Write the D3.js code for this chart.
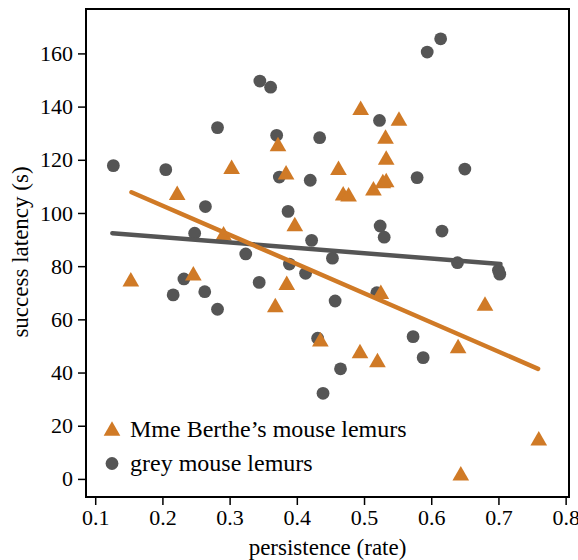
<!DOCTYPE html>
<html>
  <head>
    <meta charset="UTF-8" />
    <title>Persistence vs success latency</title>
    <script src="https://cdnjs.cloudflare.com/ajax/libs/d3/7.8.5/d3.min.js"></script>
    <style>
      body {
        margin: 0;
        padding: 0;
        background: #fff;
      }
    </style>
  </head>

  <body>
    <svg id="chart" width="578" height="560"></svg>

    <script>
      // Mme Berthe's mouse lemurs (triangles)
      const berthePersistence = [0.153, 0.222, 0.246, 0.291, 0.303, 0.368, 0.372, 0.384, 0.385, 0.397,
                                 0.435, 0.462, 0.469, 0.477, 0.494, 0.495, 0.514, 0.520, 0.525, 0.528,
                                 0.533, 0.532, 0.533, 0.552, 0.640, 0.644, 0.680, 0.760];
      const bertheLatency = [75.1, 107.6, 77.3, 92.4, 117.4, 65.4, 125.9, 115.3, 73.8, 95.9,
                             52.5, 117.0, 107.4, 107.0, 48.1, 139.6, 109.3, 44.7, 70.4, 112.0,
                             112.4, 128.8, 120.9, 135.5, 50.0, 2.1, 66.0, 15.3];

      // grey mouse lemurs (circles)
      const greyPersistence = [0.127, 0.205, 0.216, 0.232, 0.248, 0.263, 0.264, 0.282, 0.282, 0.324,
                               0.344, 0.345, 0.361, 0.370, 0.374, 0.387, 0.389, 0.413, 0.420, 0.422,
                               0.431, 0.434, 0.439, 0.453, 0.457, 0.465, 0.519, 0.523, 0.524, 0.530,
                               0.573, 0.579, 0.588, 0.594, 0.614, 0.616, 0.639, 0.650, 0.700, 0.702];
      const greyLatency = [117.8, 116.3, 69.2, 75.2, 92.4, 70.4, 102.4, 63.8, 132.1, 84.6,
                           73.9, 149.6, 147.3, 129.2, 113.5, 100.6, 80.8, 77.3, 112.3, 89.7,
                           52.9, 128.3, 32.2, 83.0, 66.9, 41.4, 70.0, 134.8, 95.1, 90.9,
                           53.5, 113.3, 45.6, 160.5, 165.5, 93.2, 81.3, 116.5, 78.5, 77.0];

      // fitted lines, end points
      const bertheFitX = [0.154, 0.759];
      const bertheFitY = [107.8, 41.4];
      const greyFitX = [0.1255, 0.703];
      const greyFitY = [92.4, 80.8];

      const xTicks = [0.1, 0.2, 0.3, 0.4, 0.5, 0.6, 0.7, 0.8];
      const yTicks = [0, 20, 40, 60, 80, 100, 120, 140, 160];
      const legendLabels = ["Mme Berthe\u2019s mouse lemurs", "grey mouse lemurs"];

      const orange = "#d07a26";
      const grey = "#555555";
      const serif = "'Liberation Serif', 'Times New Roman', Times, serif";

      const svg = d3.select("#chart");
      const plotLeft = 86, plotRight = 569, plotTop = 9, plotBottom = 497;

      const x = d3.scaleLinear().domain([0.0863, 0.805]).range([plotLeft, plotRight]);
      const y = d3.scaleLinear().domain([-6.8, 176.7]).range([plotBottom, plotTop]);

      // axes
      const xAxis = svg.append("g")
        .attr("transform", `translate(0,${plotBottom})`)
        .call(d3.axisBottom(x).tickValues(xTicks).tickFormat(d3.format(".1f"))
          .tickSize(8).tickPadding(4).tickSizeOuter(0));
      const yAxis = svg.append("g")
        .attr("transform", `translate(${plotLeft},0)`)
        .call(d3.axisLeft(y).tickValues(yTicks).tickFormat(d3.format("d"))
          .tickSize(8).tickPadding(5).tickSizeOuter(0));
      [xAxis, yAxis].forEach(g => {
        g.select(".domain").remove();
        g.selectAll(".tick line").attr("stroke", "#000").attr("stroke-width", 1.5);
        g.selectAll(".tick text")
          .style("font-family", serif)
          .style("font-size", "22px")
          .attr("fill", "#000");
      });

      // frame
      svg.append("rect")
        .attr("x", plotLeft).attr("y", plotTop)
        .attr("width", plotRight - plotLeft).attr("height", plotBottom - plotTop)
        .attr("fill", "none").attr("stroke", "#000").attr("stroke-width", 2);

      // axis titles
      svg.append("text")
        .attr("x", (plotLeft + plotRight) / 2)
        .attr("y", 555)
        .attr("text-anchor", "middle")
        .style("font-family", serif)
        .style("font-size", "23px")
        .text("persistence (rate)");
      svg.append("text")
        .attr("transform", "translate(28,252) rotate(-90)")
        .attr("text-anchor", "middle")
        .style("font-family", serif)
        .style("font-size", "23px")
        .text("success latency (s)");

      // triangle centred on its bounding box, like matplotlib's "^"
      function triangle(h) {
        const w = h * 1.15;
        return `M0,${-h / 2}L${w / 2},${h / 2}L${-w / 2},${h / 2}Z`;
      }

      const greyPts = greyPersistence.map((p, i) => ({ p, l: greyLatency[i] }));
      const berthePts = berthePersistence.map((p, i) => ({ p, l: bertheLatency[i] }));

      svg.append("g").selectAll("circle")
        .data(greyPts)
        .join("circle")
        .attr("cx", d => x(d.p))
        .attr("cy", d => y(d.l))
        .attr("r", 6.4)
        .attr("fill", grey);

      svg.append("g").selectAll("path")
        .data(berthePts)
        .join("path")
        .attr("d", triangle(14.5))
        .attr("transform", d => `translate(${x(d.p)},${y(d.l)})`)
        .attr("fill", orange);

      // fit lines
      const line = d3.line().x(d => x(d[0])).y(d => y(d[1]));
      svg.append("path")
        .datum(greyFitX.map((v, i) => [v, greyFitY[i]]))
        .attr("d", line)
        .attr("fill", "none").attr("stroke", grey)
        .attr("stroke-width", 4.5).attr("stroke-linecap", "round");
      svg.append("path")
        .datum(bertheFitX.map((v, i) => [v, bertheFitY[i]]))
        .attr("d", line)
        .attr("fill", "none").attr("stroke", orange)
        .attr("stroke-width", 4.5).attr("stroke-linecap", "round");

      // legend
      const legend = svg.append("g");
      legend.append("path")
        .attr("d", triangle(14.5))
        .attr("transform", "translate(112,428.5)")
        .attr("fill", orange);
      legend.append("circle")
        .attr("cx", 112).attr("cy", 463.5).attr("r", 6.4)
        .attr("fill", grey);
      legend.selectAll("text")
        .data(legendLabels)
        .join("text")
        .attr("x", 130)
        .attr("y", (d, i) => 437 + i * 34)
        .style("font-family", serif)
        .style("font-size", "24px")
        .text(d => d);
    </script>
  </body>
</html>
